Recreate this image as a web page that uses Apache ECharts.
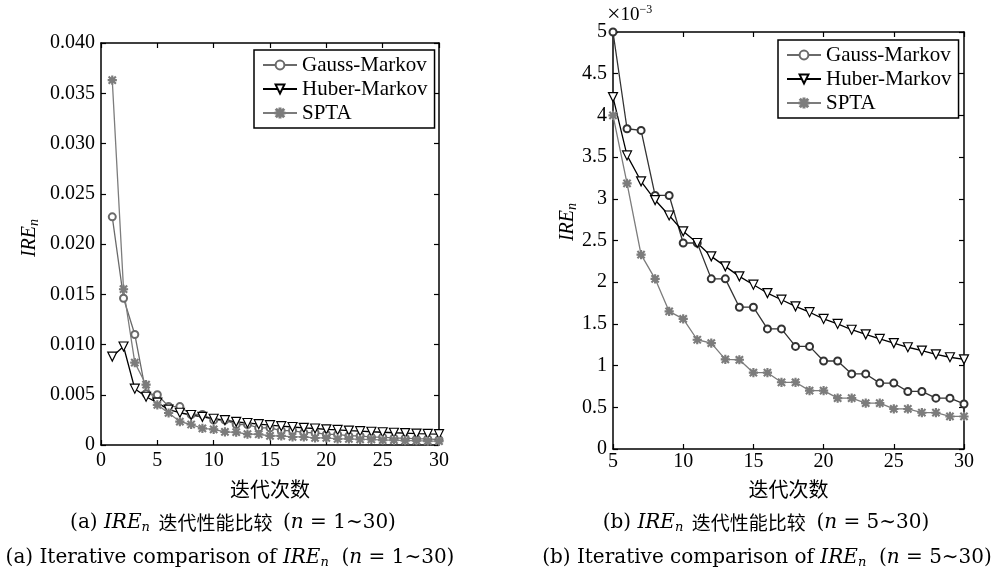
<!DOCTYPE html>
<html><head><meta charset="utf-8">
<script src="https://cdn.jsdelivr.net/npm/echarts@6/dist/echarts.min.js"></script>
<style>html,body{margin:0;padding:0;background:#fff}#c{width:995px;height:574px}</style>
</head><body><div id="c"></div>
<script>
// ---- data (IRE_n values in units of 1e-3) ----
var iterA = [1,2,3,4,5,6,7,8,9,10,11,12,13,14,15,16,17,18,19,20,21,22,23,24,25,26,27,28,29,30];
var gaussA = [22.7,14.6,11.0,5.1,5.0,3.84,3.82,3.04,3.04,2.47,2.47,2.04,2.04,1.70,1.70,1.44,1.44,1.23,1.23,1.055,1.055,0.90,0.90,0.79,0.79,0.69,0.69,0.61,0.61,0.54];
var huberA = [8.8,9.8,5.6,4.8,4.22,3.52,3.21,2.985,2.80,2.61,2.47,2.31,2.19,2.07,1.97,1.87,1.79,1.71,1.64,1.56,1.50,1.43,1.375,1.32,1.27,1.22,1.18,1.135,1.10,1.075];
var sptaA = [36.3,15.5,8.2,6.0,4.00,3.185,2.33,2.04,1.65,1.56,1.31,1.27,1.075,1.07,0.915,0.915,0.80,0.80,0.70,0.70,0.61,0.61,0.55,0.55,0.48,0.48,0.435,0.435,0.39,0.39];

var iterB = [5,6,7,8,9,10,11,12,13,14,15,16,17,18,19,20,21,22,23,24,25,26,27,28,29,30];
var gaussB = [5.00,3.84,3.82,3.04,3.04,2.47,2.47,2.04,2.04,1.70,1.70,1.44,1.44,1.23,1.23,1.055,1.055,0.90,0.90,0.79,0.79,0.69,0.69,0.61,0.61,0.54];
var huberB = [4.22,3.52,3.21,2.985,2.80,2.61,2.47,2.31,2.19,2.07,1.97,1.87,1.79,1.71,1.64,1.56,1.50,1.43,1.375,1.32,1.27,1.22,1.18,1.135,1.10,1.075];
var sptaB = [4.00,3.185,2.33,2.04,1.65,1.56,1.31,1.27,1.075,1.07,0.915,0.915,0.80,0.80,0.70,0.70,0.61,0.61,0.55,0.55,0.48,0.48,0.435,0.435,0.39,0.39];

var seriesNames = ['Gauss-Markov','Huber-Markov','SPTA'];
var xTicksA = {min:0,max:30,interval:5};
var xTicksB = {min:5,max:30,interval:5};
var yTicksA = {min:0,max:40,interval:5};
var yTicksB = {min:0,max:5,interval:0.5};

// ---- styling ----
var SERIF = "'Liberation Serif','Noto Sans CJK SC',serif";
var CAPF = "'DejaVu Serif','Noto Sans CJK SC',serif";
var FS = 20;
var triDown = 'path://M0,0L10,0L5,9Z';
var asterisk = 'path://M4.4,0H5.6V10H4.4Z M0,4.4H10V5.6H0Z M1.4,0.6L9.4,8.6L8.6,9.4L0.6,1.4Z M8.6,0.6L9.4,1.4L1.4,9.4L0.6,8.6Z';

function pairs(xs, ys){ return xs.map(function(x,i){ return [x, ys[i]]; }); }

function mkX(t, gridIndex, pos, labels, margin, name){
  return {
    type:'value', gridIndex:gridIndex, position:pos, min:t.min, max:t.max, interval:t.interval,
    name: name || '', nameLocation:'middle', nameGap: name ? (gridIndex===0?34:30) : 0,
    nameTextStyle:{fontFamily:"'Noto Sans CJK SC',sans-serif", fontSize:20, color:'#000'},
    axisLine:{show:true, onZero:false, lineStyle:{color:'#000', width:1.5}},
    axisTick:{show:true, inside:true, length:5, lineStyle:{color:'#000', width:1.2}},
    axisLabel:{show:labels, margin:margin, fontFamily:SERIF, fontSize:FS, color:'#000'},
    splitLine:{show:false}
  };
}
function mkY(t, gridIndex, pos, labels, fmt){
  return {
    type:'value', gridIndex:gridIndex, position:pos, min:t.min, max:t.max, interval:t.interval,
    axisLine:{show:true, onZero:false, lineStyle:{color:'#000', width:1.5}},
    axisTick:{show:true, inside:true, length:5, lineStyle:{color:'#000', width:1.2}},
    axisLabel:{show:labels, margin:6, fontFamily:SERIF, fontSize:FS, color:'#000', formatter:fmt},
    splitLine:{show:false}
  };
}

function mkSeries(name, data, xi, yi, color, symbol, size, fill){
  return {
    type:'line', name:name, xAxisIndex:xi, yAxisIndex:yi, data:data,
    symbol:symbol, symbolSize:size, showSymbol:true,
    lineStyle:{color:color, width:1.3},
    itemStyle:{color:fill, borderColor:color, borderWidth:1.2},
    emphasis:{disabled:true}, animation:false, z:3
  };
}

var legendBase = {
  orient:'vertical', backgroundColor:'#fff', borderColor:'#000', borderWidth:1.5,
  padding:[4,7,4,8], itemGap:2, itemWidth:34, itemHeight:11,
  textStyle:{fontFamily:SERIF, fontSize:21, color:'#000', lineHeight:22},
  selectedMode:false, data:seriesNames
};

var rich = {
  r:{fontFamily:CAPF, fontSize:20, color:'#000'},
  i:{fontFamily:CAPF, fontSize:20, fontStyle:'italic', color:'#000'},
  s:{fontFamily:CAPF, fontSize:13, fontStyle:'italic', color:'#000', padding:[10,0,0,0]},
  c:{fontFamily:"'Noto Sans CJK SC',sans-serif", fontSize:19, color:'#000'}
};
function caption(x, y, text){
  return {type:'text', x:x, y:y, style:{text:text, rich:rich, fill:'#000', align:'center', verticalAlign:'middle'}, z:10};
}

var chart = echarts.init(document.getElementById('c'), null, {renderer:'canvas'});
chart.setOption({
  animation:false,
  backgroundColor:'#fff',
  grid:[
    {left:101, right:556, top:43, bottom:129, containLabel:false},
    {left:613, right:31, top:32, bottom:125, containLabel:false}
  ],
  xAxis:[
    mkX(xTicksA, 0, 'bottom', true, 6, '迭代次数'),
    mkX(xTicksA, 0, 'top', false, 6),
    mkX(xTicksB, 1, 'bottom', true, 3, '迭代次数'),
    mkX(xTicksB, 1, 'top', false, 3)
  ],
  yAxis:[
    mkY(yTicksA, 0, 'left', true, function(v){ return v===0 ? '0' : (v/1000).toFixed(3); }),
    mkY(yTicksA, 0, 'right', false),
    mkY(yTicksB, 1, 'left', true, function(v){ return String(v); }),
    mkY(yTicksB, 1, 'right', false)
  ],
  legend:[
    Object.assign({}, legendBase, {left:254, top:50}),
    Object.assign({}, legendBase, {left:778, top:40})
  ],
  series:[
    mkSeries(seriesNames[0], pairs(iterA, gaussA), 0, 0, '#6a6a6a', 'emptyCircle', 7, '#6a6a6a'),
    mkSeries(seriesNames[1], pairs(iterA, huberA), 0, 0, '#000', triDown, 9, '#fff'),
    mkSeries(seriesNames[2], pairs(iterA, sptaA), 0, 0, '#7c7c7c', asterisk, 8, '#7c7c7c'),
    mkSeries(seriesNames[0], pairs(iterB, gaussB), 2, 2, '#333', 'emptyCircle', 7, '#333'),
    mkSeries(seriesNames[1], pairs(iterB, huberB), 2, 2, '#000', triDown, 9, '#fff'),
    mkSeries(seriesNames[2], pairs(iterB, sptaB), 2, 2, '#7c7c7c', asterisk, 8, '#7c7c7c')
  ],
  graphic:[
    {type:'text', x:30, y:238, rotation:Math.PI/2,
     style:{text:'{i|IRE}{s|n}', rich:{i:{fontFamily:SERIF,fontSize:20,fontStyle:'italic'}, s:{fontFamily:SERIF,fontSize:14,fontStyle:'italic',padding:[9,0,0,0]}}, align:'center', verticalAlign:'middle', fill:'#000'}},
    {type:'text', x:568, y:222, rotation:Math.PI/2,
     style:{text:'{i|IRE}{s|n}', rich:{i:{fontFamily:SERIF,fontSize:20,fontStyle:'italic'}, s:{fontFamily:SERIF,fontSize:14,fontStyle:'italic',padding:[9,0,0,0]}}, align:'center', verticalAlign:'middle', fill:'#000'}},
    {type:'text', left:607, top:3,
     style:{text:'{m|×}{t|10}{e|−3}', rich:{m:{fontFamily:SERIF,fontSize:24}, t:{fontFamily:SERIF,fontSize:19}, e:{fontFamily:SERIF,fontSize:12,padding:[0,0,10,0]}}, fill:'#000'}},
    caption(233, 523, '{r|(a) }{i|IRE}{s|n}{c|  迭代性能比较 }{r| (}{i|n}{r| = 1∼30)}'),
    caption(230, 558, '{r|(a) Iterative comparison of }{i|IRE}{s|n}{r|  (}{i|n}{r| = 1∼30)}'),
    caption(766, 523, '{r|(b) }{i|IRE}{s|n}{c|  迭代性能比较 }{r| (}{i|n}{r| = 5∼30)}'),
    caption(767, 558, '{r|(b) Iterative comparison of }{i|IRE}{s|n}{r|  (}{i|n}{r| = 5∼30)}')
  ]
});
</script></body></html>
